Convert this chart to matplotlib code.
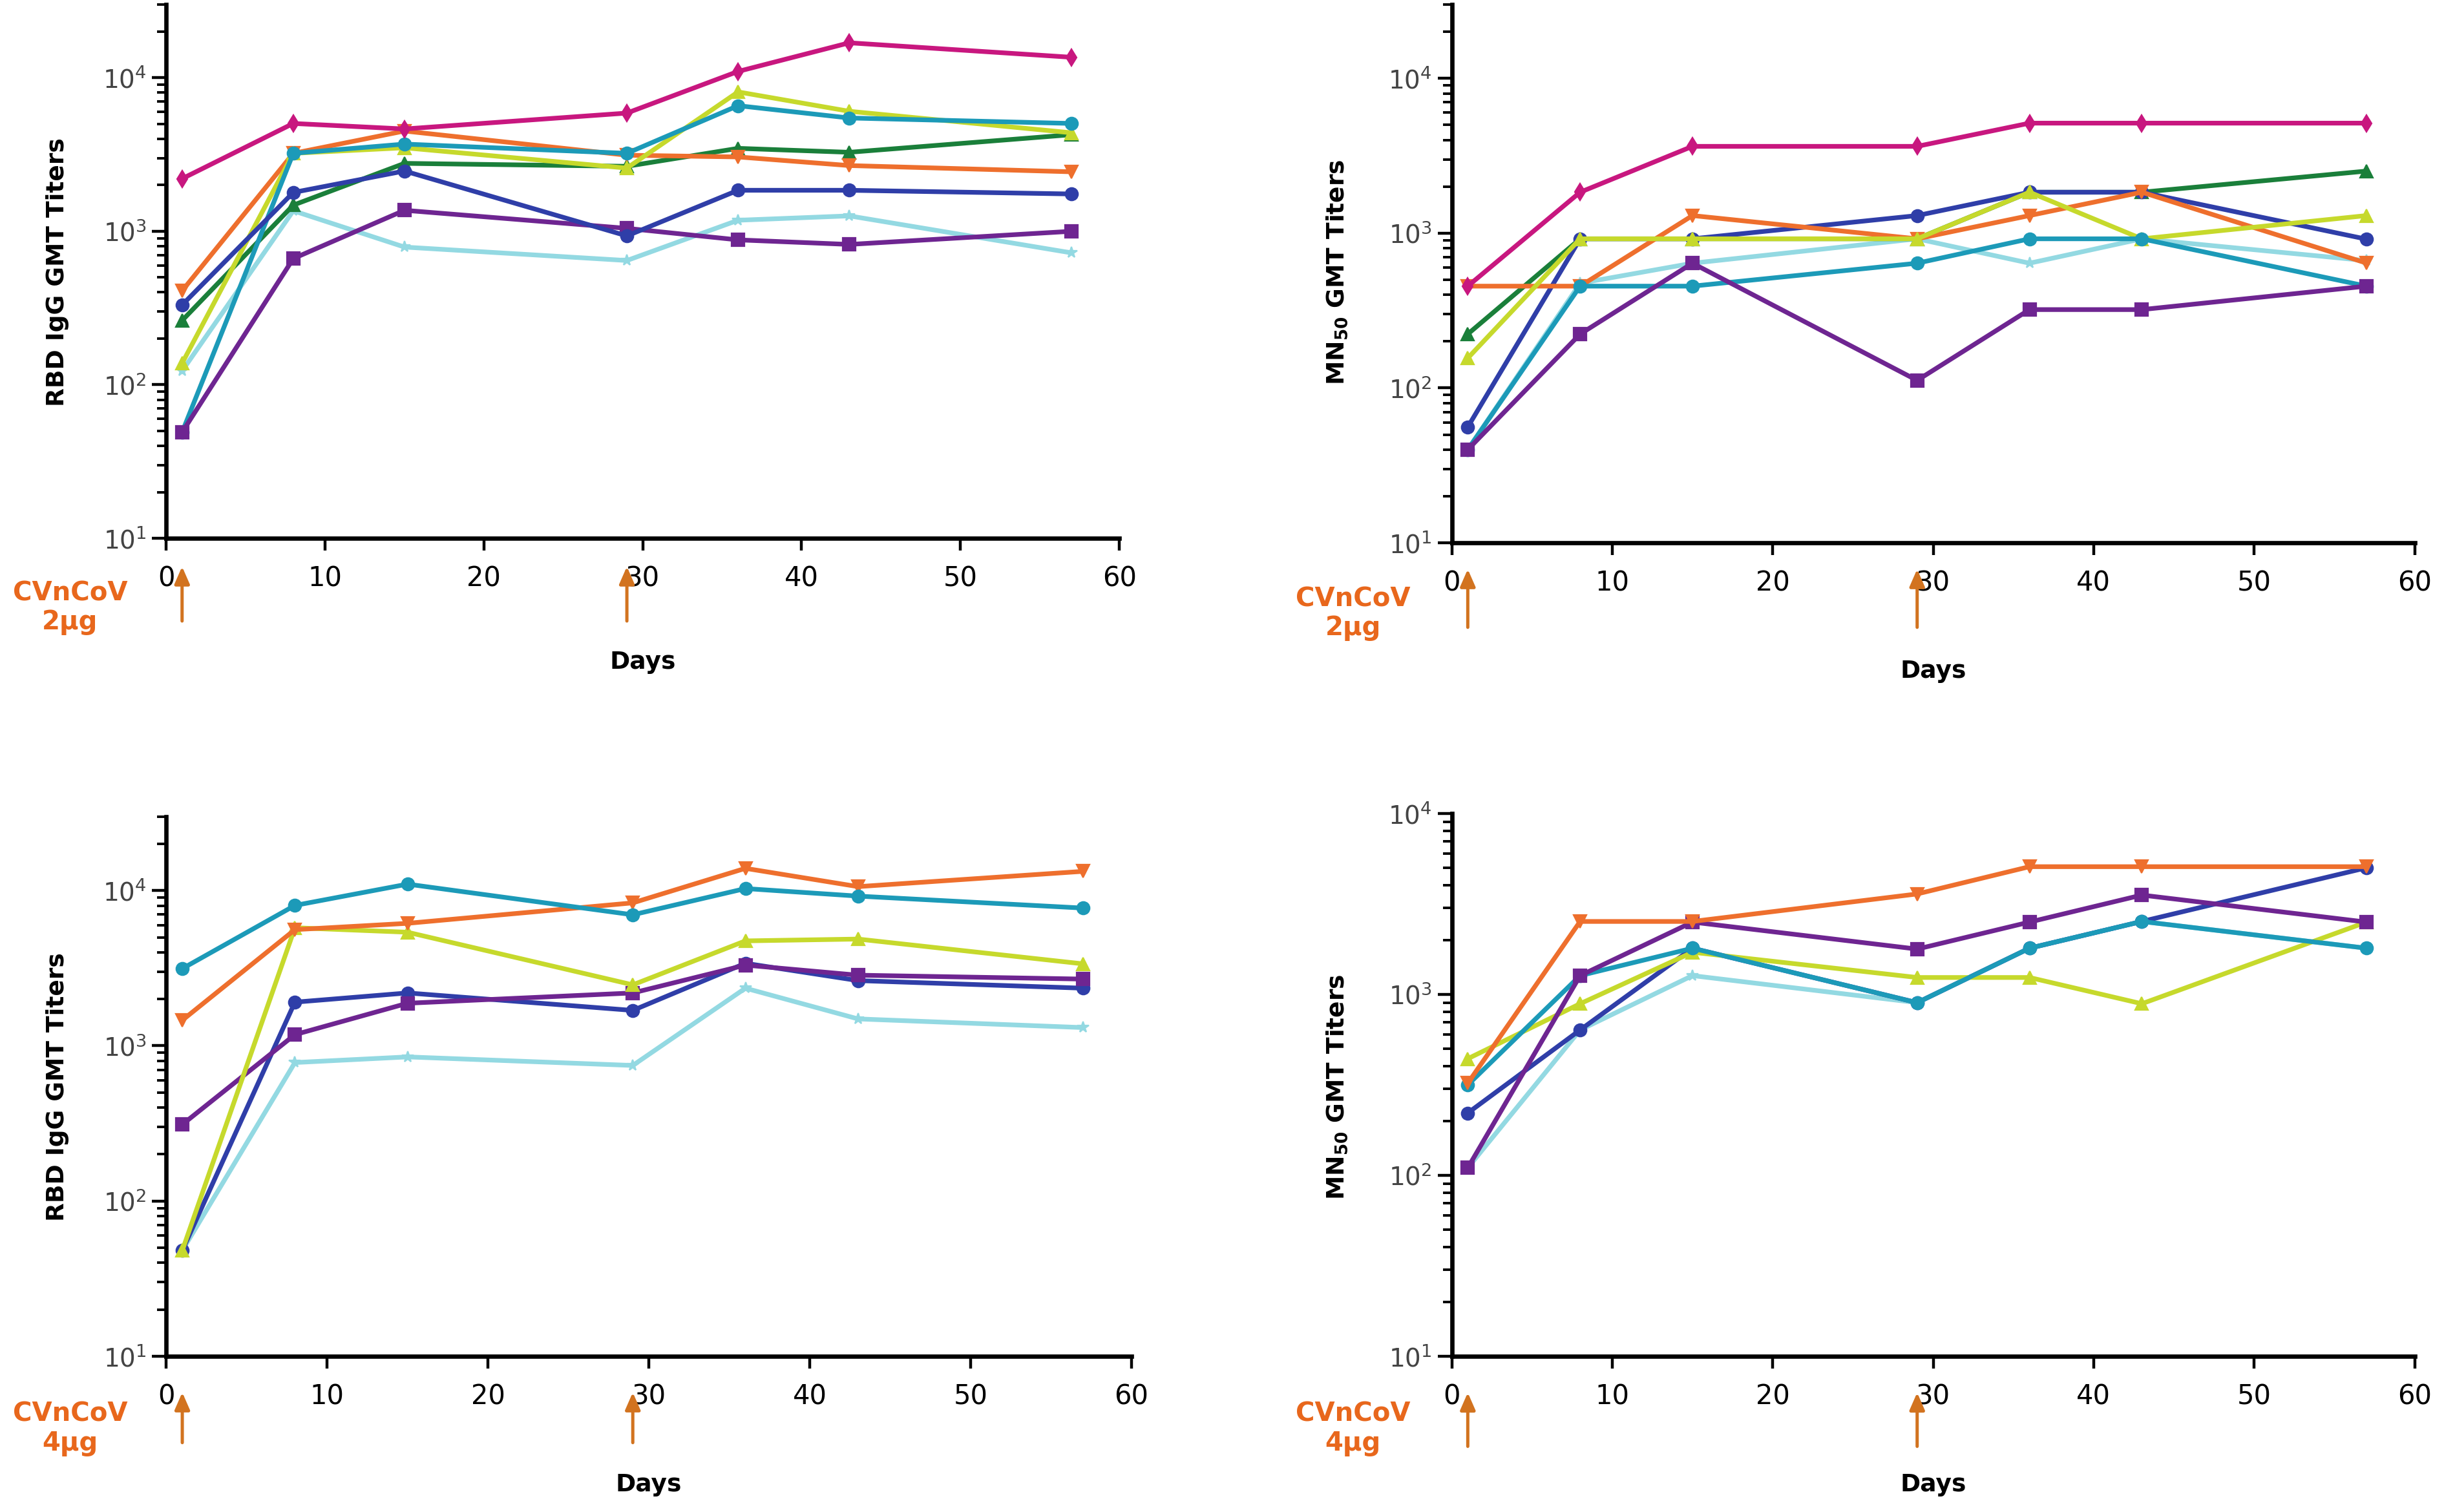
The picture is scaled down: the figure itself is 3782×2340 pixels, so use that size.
import matplotlib
matplotlib.use("Agg")
import matplotlib.pyplot as plt
from matplotlib.ticker import LogLocator, FixedLocator, NullFormatter
import matplotlib.transforms as mtransforms

days = [1, 8, 15, 29, 36, 43, 57]

# Top-left: RBD IgG, 2 ug
rbd2_magenta = [2200, 5040, 4640, 5890, 11000, 16900, 13600]
rbd2_orange = [409, 3220, 4500, 3130, 3050, 2680, 2440]
rbd2_teal = [49, 3220, 3700, 3220, 6580, 5470, 5040]
rbd2_yellow = [138, 3220, 3500, 2580, 8090, 6050, 4380]
rbd2_green = [262, 1480, 2770, 2650, 3470, 3270, 4260]
rbd2_blue = [331, 1790, 2470, 933, 1850, 1850, 1750]
rbd2_purple = [49, 664, 1370, 1045, 879, 821, 1000]
rbd2_lightcyan = [123, 1360, 789, 645, 1180, 1260, 723]

# Top-right: MN50, 2 ug
mn2_magenta = [455, 1840, 3640, 3640, 5140, 5140, 5140]
mn2_orange = [455, 455, 1300, 920, 1300, 1840, 641]
mn2_green = [223, 920, 920, 920, 1840, 1840, 2520]
mn2_yellow = [156, 920, 920, 920, 1840, 920, 1300]
mn2_blue = [56, 920, 920, 1300, 1840, 1840, 915]
mn2_teal = [40, 455, 455, 640, 920, 920, 455]
mn2_lightcyan = [40, 475, 640, 920, 640, 920, 665]
mn2_purple = [40, 223, 640, 112, 321, 321, 455]

# Bottom-left: RBD IgG, 4 ug
rbd4_teal = [3140, 8020, 11000, 6980, 10300, 9210, 7710]
rbd4_orange = [1460, 5600, 6150, 8330, 13900, 10600, 13300]
rbd4_yellow = [48, 5760, 5390, 2470, 4740, 4870, 3370]
rbd4_blue = [48, 1910, 2190, 1690, 3400, 2630, 2350]
rbd4_purple = [311, 1180, 1880, 2190, 3310, 2850, 2690]
rbd4_lightcyan = [48, 780, 848, 747, 2350, 1490, 1310]

# Bottom-right: MN50, 4 ug
mn4_orange = [323, 2530, 2530, 3590, 5080, 5080, 5080]
mn4_purple = [110, 1270, 2510, 1780, 2510, 3540, 2510]
mn4_blue = [221, 636, 1800, 900, 1800, 2530, 5010]
mn4_teal = [316, 1270, 1800, 900, 1800, 2530, 1800]
mn4_yellow = [441, 888, 1710, 1240, 1240, 888, 2510]
mn4_lightcyan = [110, 636, 1270, 900, 1800, 2530, 1800]

x_ticks = [0, 10, 20, 30, 40, 50, 60]
dose_days = [1, 29]
ylabel_rbd = "RBD IgG GMT Titers"
ylabel_mn = r"MN$_{\mathbf{50}}$ GMT Titers"
dose_2 = "CVnCoV\n2µg"
dose_4 = "CVnCoV\n4µg"
xlabel = "Days"

C = {
    "magenta": "#c8177f", "orange": "#ee6f2d", "teal": "#1c9ab8",
    "yellow": "#c6d92c", "green": "#1a7f3a", "blue": "#2f3ea8",
    "purple": "#6e2591", "lightcyan": "#93d9e2",
}
M = {"magenta": "d", "orange": "v", "teal": "o", "yellow": "^",
     "green": "^", "blue": "o", "purple": "s", "lightcyan": "*"}
MS = {"magenta": 6.5, "orange": 7, "teal": 7, "yellow": 7,
      "green": 7, "blue": 7, "purple": 7.5, "lightcyan": 6.5}

ARROW_C = "#d2731f"
TEXT_C = "#e8671c"

fig = plt.figure(figsize=(18.91, 11.70), dpi=200)


def style_axis(ax, ytop):
    ax.set_yscale("log")
    ax.set_xlim(0, 60)
    ax.set_ylim(10, ytop)
    for s in ("top", "right"):
        ax.spines[s].set_visible(False)
    for s in ("left", "bottom"):
        ax.spines[s].set_linewidth(2.4)
        ax.spines[s].set_color("black")
    ax.xaxis.set_major_locator(FixedLocator(x_ticks))
    ax.yaxis.set_major_locator(LogLocator(base=10, numticks=10))
    ax.yaxis.set_minor_locator(LogLocator(base=10, subs=range(2, 10), numticks=20))
    ax.yaxis.set_minor_formatter(NullFormatter())
    ax.tick_params(axis="x", which="major", direction="out", length=7, width=1.6,
                   labelsize=15, pad=8, colors="black")
    ax.tick_params(axis="y", which="major", direction="out", length=8, width=1.6,
                   labelsize=14, pad=3, labelcolor="#444444")
    ax.tick_params(axis="y", which="minor", direction="out", length=5, width=1.4)
    ax.patch.set_alpha(0)


def plot_series(ax, series):
    for name, vals in series:
        ax.plot(days, vals, color=C[name], marker=M[name], markersize=MS[name],
                linewidth=2.6, markeredgewidth=0.8, markeredgecolor=C[name],
                clip_on=False)


def dose_arrows(ax, y_tip, y_tail):
    trans = mtransforms.blended_transform_factory(ax.transData, ax.transAxes)
    for d in dose_days:
        ax.annotate("", xy=(d, y_tip), xycoords=trans, xytext=(d, y_tail),
                    textcoords=trans,
                    arrowprops=dict(arrowstyle="-|>,head_length=0.8,head_width=0.35",
                                    color=ARROW_C, lw=1.8, shrinkA=0, shrinkB=0),
                    annotation_clip=False)


axes_specs = [
    ([0.068, 0.644, 0.390, 0.353], 3e4),
    ([0.594, 0.641, 0.394, 0.356], 3e4),
    ([0.068, 0.103, 0.395, 0.357], 3e4),
    ([0.594, 0.103, 0.394, 0.359], 1e4),
]

ax_tl = fig.add_axes(axes_specs[0][0])
ax_tr = fig.add_axes(axes_specs[1][0])
ax_bl = fig.add_axes(axes_specs[2][0])
ax_br = fig.add_axes(axes_specs[3][0])

plot_series(ax_tl, [
    ("lightcyan", rbd2_lightcyan), ("green", rbd2_green), ("orange", rbd2_orange),
    ("yellow", rbd2_yellow), ("teal", rbd2_teal), ("purple", rbd2_purple),
    ("blue", rbd2_blue), ("magenta", rbd2_magenta),
])
plot_series(ax_tr, [
    ("lightcyan", mn2_lightcyan), ("green", mn2_green), ("blue", mn2_blue),
    ("orange", mn2_orange), ("yellow", mn2_yellow), ("teal", mn2_teal),
    ("purple", mn2_purple), ("magenta", mn2_magenta),
])
plot_series(ax_bl, [
    ("lightcyan", rbd4_lightcyan), ("blue", rbd4_blue), ("purple", rbd4_purple),
    ("yellow", rbd4_yellow), ("orange", rbd4_orange), ("teal", rbd4_teal),
])
plot_series(ax_br, [
    ("lightcyan", mn4_lightcyan), ("blue", mn4_blue), ("yellow", mn4_yellow),
    ("teal", mn4_teal), ("purple", mn4_purple), ("orange", mn4_orange),
])

for ax, (_, ytop) in zip([ax_tl, ax_tr, ax_bl, ax_br], axes_specs):
    style_axis(ax, ytop)

dose_arrows(ax_tl, -0.053, -0.155)
dose_arrows(ax_tr, -0.049, -0.157)
dose_arrows(ax_bl, -0.067, -0.160)
dose_arrows(ax_br, -0.067, -0.166)

lab_kw = dict(fontsize=13.5, fontweight="bold", rotation=90, ha="center", va="center")
fig.text(0.0236, 0.82, ylabel_rbd, **lab_kw)
fig.text(0.547, 0.82, ylabel_mn, **lab_kw)
fig.text(0.0236, 0.281, ylabel_rbd, **lab_kw)
fig.text(0.547, 0.281, ylabel_mn, **lab_kw)

day_kw = dict(fontsize=13.5, fontweight="bold", ha="center", va="center")
fig.text(0.068 + 0.390 / 2, 0.562, xlabel, **day_kw)
fig.text(0.594 + 0.394 / 2, 0.556, xlabel, **day_kw)
fig.text(0.068 + 0.395 / 2, 0.018, xlabel, **day_kw)
fig.text(0.594 + 0.394 / 2, 0.018, xlabel, **day_kw)

dose_kw = dict(fontsize=14.5, fontweight="bold", ha="center", va="center",
               color=TEXT_C, linespacing=1.15)
fig.text(0.0287, 0.598, dose_2, **dose_kw)
fig.text(0.5536, 0.594, dose_2, **dose_kw)
fig.text(0.0287, 0.055, dose_4, **dose_kw)
fig.text(0.5536, 0.055, dose_4, **dose_kw)

fig.savefig("out.png", dpi=200, facecolor="white")
